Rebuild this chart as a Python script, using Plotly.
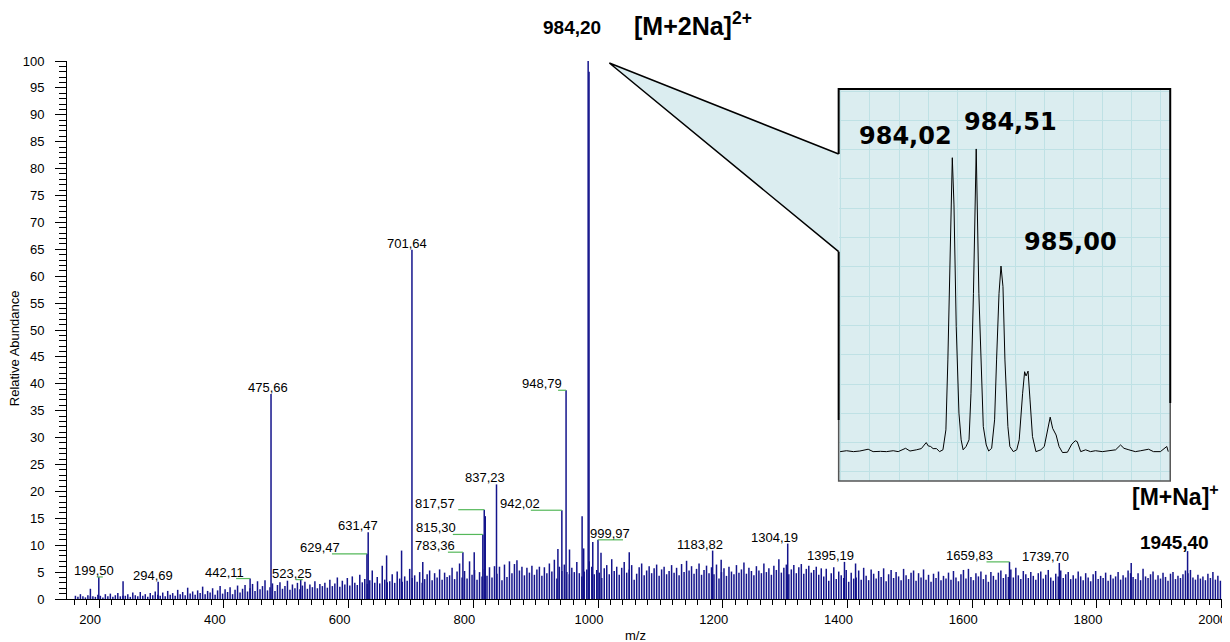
import plotly.graph_objects as go

# ---------------- data ----------------
# background noise sticks (relative abundance), one every 4 m/z starting at 162
noise_start = 162
noise_step = 4
noise_160_360 = [0.6, 0.4, 0.9, 0.5, 0.3, 0.7, 0.5, 0.5, 0.4, 0.8, 0.6, 0.3, 0.9, 0.5, 1.0, 0.4, 0.7, 1.1, 0.5, 0.6,
                 0.6, 0.9, 0.4, 1.2, 0.7, 0.5, 1.3, 0.6, 0.9, 0.4, 1.1, 0.7, 1.4, 0.8, 0.6, 1.2, 0.5, 1.5, 0.8, 1.1,
                 0.6, 1.7, 0.9, 1.3, 0.7, 2.1, 1.0, 1.4, 0.8, 1.6]
noise_360_560 = [1.1, 2.3, 0.9, 1.5, 1.2, 2.0, 0.8, 1.6, 2.4, 1.0, 1.8, 1.3, 2.2, 0.9, 1.7, 2.5, 1.2, 1.9, 2.6, 1.4,
                 2.0, 2.8, 1.5, 3.3, 1.8, 2.4, 3.5, 1.6, 2.2, 2.9, 1.5, 2.6, 3.1, 1.9, 2.4, 3.4, 1.7, 2.7, 2.0, 3.0,
                 1.8, 2.5, 3.2, 1.9, 2.7, 2.2, 3.3, 2.0, 2.8, 2.4]
noise_560_760 = [3.0, 2.1, 3.6, 2.4, 2.9, 4.0, 2.3, 3.4, 2.7, 3.9, 2.5, 4.2, 3.0, 2.6, 4.5, 3.1, 3.7, 2.8, 3.5, 5.3,
                 3.0, 4.1, 2.9, 6.2, 3.6, 3.1, 3.3, 4.6, 3.0, 5.1, 3.8, 3.2, 4.2, 3.4, 5.6, 3.9, 4.4, 3.2, 5.0, 3.0,
                 3.7, 4.6, 5.3, 3.5, 4.8, 4.0, 5.5, 3.6, 4.9, 4.1]
noise_760_960 = [4.4, 5.8, 3.7, 5.1, 6.6, 4.0, 5.2, 3.8, 7.0, 4.5, 5.4, 3.6, 5.0, 4.2, 5.6, 4.3, 5.9, 4.0, 6.1, 4.7,
                 6.0, 3.5, 6.4, 4.1, 7.0, 4.8, 6.5, 7.2, 5.3, 6.0, 4.4, 5.8, 4.9, 6.2, 4.5, 5.5, 6.0, 4.3, 5.9, 4.8,
                 6.6, 5.1, 7.3, 3.8, 6.0, 5.2, 6.4, 5.0, 4.6, 5.8]
noise_960_1160 = [5.0, 6.9, 4.8, 4.2, 5.1, 5.5, 7.0, 6.0, 4.6, 5.4, 4.9, 3.9, 5.7, 6.3, 4.6, 7.4, 5.2, 6.0, 4.5, 5.8,
                  6.9, 4.9, 5.5, 6.3, 3.6, 4.7, 5.9, 6.6, 4.4, 5.3, 6.1, 4.8, 5.7, 6.4, 4.3, 5.5, 6.0, 4.6, 5.2, 6.3,
                  4.9, 5.8, 4.4, 6.5, 5.0, 7.1, 5.3, 6.1, 4.7, 5.6]
noise_1160_1360 = [6.6, 4.5, 5.4, 6.2, 4.8, 5.9, 4.6, 6.4, 3.8, 5.0, 5.7, 4.3, 6.0, 5.1, 4.6, 6.3, 4.9, 5.5, 6.8, 4.7,
                   5.8, 5.2, 4.4, 6.1, 5.3, 4.8, 6.6, 5.0, 5.7, 4.5, 6.2, 5.4, 7.4, 4.9, 5.8, 6.4, 4.6, 5.5, 6.3, 4.8,
                   5.9, 6.5, 4.7, 5.6, 6.2, 4.9, 5.4, 6.0, 4.5, 5.7]
noise_1360_1560 = [4.2, 5.6, 3.4, 4.8, 5.9, 3.7, 5.1, 4.4, 3.9, 5.4, 3.2, 4.9, 3.8, 4.0, 5.3, 3.6, 5.8, 4.3, 3.5, 5.5,
                   4.7, 3.8, 5.2, 4.1, 5.7, 3.3, 4.6, 5.4, 3.9, 5.0, 4.2, 3.5, 5.6, 4.4, 3.7, 4.9, 5.3, 3.4, 4.8, 4.0,
                   5.5, 3.6, 4.5, 3.2, 4.7, 3.9, 5.1, 3.5, 4.3, 3.8]
noise_1560_1760 = [4.9, 3.6, 5.2, 4.0, 3.3, 4.6, 5.4, 3.8, 5.6, 4.1, 3.5, 4.8, 4.2, 5.1, 3.7, 4.5, 3.2, 5.0, 4.3, 3.6,
                   4.9, 5.3, 3.9, 4.6, 4.1, 5.5, 4.0, 5.8, 4.4, 3.7, 5.2, 4.6, 3.9, 5.0, 4.3, 3.6, 4.8, 5.1, 3.8, 4.5,
                   5.4, 4.0, 3.4, 4.7, 4.2, 5.3, 3.9, 4.6, 5.0, 3.7]
noise_1760_2000 = [4.4, 3.8, 5.1, 4.2, 3.5, 4.8, 4.0, 3.3, 4.6, 5.2, 3.7, 4.3, 3.9, 4.9, 3.4, 4.5, 3.8, 4.2, 5.0, 3.6,
                   4.4, 4.0, 5.3, 4.8, 4.1, 3.7, 4.8, 3.5, 5.6, 4.2, 3.9, 4.6, 5.1, 3.6, 4.4, 3.8, 4.9, 4.1, 3.4, 4.7,
                   5.0, 3.7, 4.3, 3.9, 4.6, 5.3, 4.8, 5.4, 4.0, 3.6, 4.5, 3.8, 4.2, 3.5, 4.7, 3.9, 5.0, 3.6, 4.3, 3.4]

# unlabelled but noticeable sticks
extra_mz = [186.0, 238.4, 661.0, 685.0, 719.0, 801.5, 819.2, 935.7, 954.3, 974.5, 977.0, 985.6, 991.6, 1004.8,
            1050.1, 1197.5, 1413.0, 1855.0]
extra_int = [1.9, 3.3, 8.1, 9.0, 6.9, 8.7, 15.4, 9.3, 9.2, 15.4, 9.4, 98.0, 10.6, 8.6, 8.7, 7.3, 6.6, 6.7]

# labelled peaks
peak_mz = [199.50, 294.69, 442.11, 475.66, 523.25, 629.47, 631.47, 701.64, 783.36, 815.30, 817.57, 837.23,
           942.02, 948.79, 999.97, 1183.82, 1304.19, 1395.19, 1659.83, 1739.70]
peak_int = [4.1, 3.2, 3.8, 38.1, 3.6, 8.4, 12.4, 64.9, 8.7, 12.0, 16.6, 21.3, 16.5, 38.8, 11.0, 9.0, 10.3, 6.9,
            6.9, 6.7]

# main ions (bold labels)
major_mz = [984.20, 1945.40]
major_int = [100.0, 8.9]
major_ion = ["[M+2Na]<sup>2+</sup>", "[M+Na]<sup>+</sup>"]

# zoomed isotope profile of the [M+2Na]2+ ion
inset_mz = [981.74, 981.87, 982.01, 982.14, 982.31, 982.41, 982.56, 982.68, 982.82, 982.92, 983.07, 983.16,
            983.29, 983.39, 983.49, 983.53, 983.58, 983.63, 983.70, 983.76, 983.83, 983.89, 983.93, 984.02,
            984.054, 984.10, 984.155, 984.20, 984.24, 984.30, 984.36, 984.40, 984.45, 984.506, 984.56, 984.61,
            984.65, 984.71, 984.76, 984.82, 984.88, 984.92, 984.97, 985.01, 985.05, 985.09, 985.15, 985.19,
            985.26, 985.33, 985.38, 985.45, 985.49, 985.52, 985.56, 985.60, 985.65, 985.72, 985.82, 985.89,
            985.95, 986.01, 986.06, 986.13, 986.19, 986.26, 986.36, 986.45, 986.52, 986.56, 986.63, 986.73,
            986.83, 986.93, 987.07, 987.20, 987.34, 987.44, 987.51, 987.61, 987.74, 987.85, 988.01, 988.11,
            988.25, 988.38, 988.41]
inset_int = [0.0, 0.3, 0.0, 0.2, 0.8, 0.0, 0.1, 0.0, 0.3, 0.0, 1.1, 0.2,
             0.6, 1.0, 3.0, 1.9, 1.7, 1.0, 1.0, 0.0, 0.6, 7.2, 30.3, 97.1,
             81.5, 41.3, 12.7, 3.9, 0.6, 1.7, 3.9, 19.3, 52.3, 100.0, 52.3, 24.8,
             8.3, 2.2, 0.2, 1.1, 10.5, 30.3, 52.3, 61.3, 54.5, 30.3, 8.3, 1.7,
             0.0, 0.6, 3.9, 19.3, 26.4, 25.0, 26.6, 17.1, 5.0, 0.0, 0.6, 1.7,
             6.1, 11.4, 7.7, 5.5, 1.7, -0.3, -0.2, 2.5, 3.6, 3.3, 0.0, 0.6,
             0.0, 0.3, 0.0, 0.2, 0.6, 2.2, 1.1, 0.6, 0.0, 0.3, 0.8, 0.0,
             0.0, 1.7, 0.0]
inset_label_mz = [984.02, 984.51, 985.00]

# ---------------- label / inset styling (positions, not data) ----------------
label_dx = [-5, -5, -26, -3, -9, -47, -10, -5, -28, -47, -49, -12, -42, -24, 12, -13, -13, -14, -40, -14]
leader_px = [(-2, 4), None, (-14, 0), None, (-5, 2), (-35, 0), None, None, (-15, 0), (-30, 0), (-26, 0), None,
             (-31, 0), (-8, 0), (0, 25), None, None, None, (-23, 0), None]
inset_label_pos = [(983.07, 104.3), (985.20, 108.8), (986.43, 69.4)]

FONT = "Liberation Sans, Arial, sans-serif"
STICK = "#14148c"
INSET_BG = "#dbedf0"
INSET_GRID = "#bfe1e5"
LEADER = "#55b85a"

noise_int = (noise_160_360 + noise_360_560 + noise_560_760 + noise_760_960 + noise_960_1160 +
             noise_1160_1360 + noise_1360_1560 + noise_1560_1760 + noise_1760_2000)
noise_mz = [noise_start + noise_step * i for i in range(len(noise_int))]

all_mz = noise_mz + extra_mz + peak_mz + major_mz
all_int = noise_int + extra_int + peak_int + major_int
sx, sy = [], []
for m, h in zip(all_mz, all_int):
    sx += [m, m, None]
    sy += [0, h, None]

fig = go.Figure()
fig.add_trace(go.Scatter(x=sx, y=sy, mode="lines", line=dict(color=STICK, width=1.5),
                         hoverinfo="skip", showlegend=False))
fig.add_trace(go.Scatter(x=inset_mz, y=inset_int, xaxis="x2", yaxis="y2", mode="lines",
                         line=dict(color="black", width=1), hoverinfo="skip", showlegend=False))

annotations = []
shapes = []

# peak labels
for m, h, dx, ld in zip(peak_mz, peak_int, label_dx, leader_px):
    annotations.append(dict(x=m, y=h, xref="x", yref="y", text=f"{m:.2f}".replace(".", ","),
                            showarrow=False, xanchor="center", yanchor="bottom", xshift=dx, yshift=-3,
                            font=dict(family=FONT, size=13, color="black")))
    if ld is not None:
        shapes.append(dict(type="line", xref="x", yref="y", xsizemode="pixel", ysizemode="pixel",
                           xanchor=m, yanchor=h, x0=ld[0], x1=ld[1], y0=0, y1=0,
                           line=dict(color=LEADER, width=1.2)))

# bold main-ion labels
annotations.append(dict(x=major_mz[0], y=major_int[0], xref="x", yref="y",
                        text="<b>" + f"{major_mz[0]:.2f}".replace(".", ",") + "</b>",
                        showarrow=False, xanchor="center", yanchor="middle", xshift=-16, yshift=34,
                        font=dict(family=FONT, size=19, color="black")))
annotations.append(dict(x=major_mz[0], y=major_int[0], xref="x", yref="y",
                        text="<b>" + major_ion[0] + "</b>",
                        showarrow=False, xanchor="left", yanchor="middle", xshift=44, yshift=37,
                        font=dict(family=FONT, size=25, color="black")))
annotations.append(dict(x=major_mz[1], y=major_int[1], xref="x", yref="y",
                        text="<b>" + f"{major_mz[1]:.2f}".replace(".", ",") + "</b>",
                        showarrow=False, xanchor="center", yanchor="middle", xshift=-13, yshift=9,
                        font=dict(family=FONT, size=19, color="black")))
annotations.append(dict(x=major_mz[1], y=major_int[1], xref="x", yref="y",
                        text="<b>" + major_ion[1] + "</b>",
                        showarrow=False, xanchor="right", yanchor="middle", xshift=33, yshift=56,
                        font=dict(family=FONT, size=23, color="black")))

# inset labels
for m, (lx, ly) in zip(inset_label_mz, inset_label_pos):
    annotations.append(dict(x=lx, y=ly, xref="x2", yref="y2", text="<b>" + f"{m:.2f}".replace(".", ",") + "</b>",
                            showarrow=False, xanchor="center", yanchor="middle",
                            font=dict(family="DejaVu Sans, Verdana, sans-serif", size=24, color="black")))

# page geometry (the page body has an 8 px margin, so the figure is shrunk by that amount)
PAGE_W, PAGE_H = 1230, 642
BODY = 8
W, H = PAGE_W - BODY, PAGE_H - BODY
PLOT_L, PLOT_R, PLOT_T, PLOT_B = 67, 1227, 61, 599   # wanted plot-area pixels on the page
ML, MR, MT, MB = PLOT_L - BODY, PAGE_W - PLOT_R, PLOT_T - BODY, PAGE_H - PLOT_B


def px(x):
    return (x - PLOT_L) / (PLOT_R - PLOT_L)


def py(y):
    return (PLOT_B - y) / (PLOT_B - PLOT_T)


# axis titles
annotations.append(dict(x=px(14), y=py(348), xref="paper", yref="paper", text="Relative Abundance",
                        showarrow=False, textangle=-90, xanchor="center", yanchor="middle",
                        font=dict(family=FONT, size=13, color="black")))
annotations.append(dict(x=px(638), y=py(635), xref="paper", yref="paper", text="m/z", showarrow=False,
                        xanchor="center", yanchor="middle", font=dict(family=FONT, size=13, color="black")))

box_l, box_r, box_t, box_b = 842, 1175, 89, 481
tip = (611.7, 63)
att_hi, att_lo = 154, 251.7

# inset background
shapes.append(dict(type="rect", xref="x2 domain", yref="y2 domain", x0=0, x1=1, y0=0, y1=1,
                   fillcolor=INSET_BG, line=dict(width=0), layer="below"))
# callout wedge
shapes.append(dict(type="path", xref="paper", yref="paper",
                   path=f"M {px(box_l)} {py(att_hi)} L {px(tip[0])} {py(tip[1])} L {px(box_l)} {py(att_lo)} Z",
                   fillcolor=INSET_BG, line=dict(width=0), layer="below"))
shapes.append(dict(type="path", xref="paper", yref="paper",
                   path=f"M {px(box_l)} {py(att_hi)} L {px(tip[0])} {py(tip[1])} L {px(box_l)} {py(att_lo)}",
                   line=dict(color="black", width=1.5)))
# inset border
shapes.append(dict(type="path", xref="paper", yref="paper",
                   path=f"M {px(box_l)} {py(att_hi)} L {px(box_l)} {py(box_t)} L {px(box_r)} {py(box_t)} L {px(box_r)} {py(403)}",
                   line=dict(color="black", width=2)))
shapes.append(dict(type="path", xref="paper", yref="paper",
                   path=f"M {px(box_l)} {py(att_lo)} L {px(box_l)} {py(420)}",
                   line=dict(color="black", width=2)))
shapes.append(dict(type="path", xref="paper", yref="paper",
                   path=f"M {px(box_l)} {py(420)} L {px(box_l)} {py(box_b)} L {px(box_r)} {py(box_b)} L {px(box_r)} {py(403)}",
                   line=dict(color="#555555", width=1.5)))

fig.update_layout(
    width=W, height=H, margin=dict(l=ML, r=MR, t=MT, b=MB, pad=0),
    paper_bgcolor="white", plot_bgcolor="rgba(0,0,0,0)", showlegend=False,
    font=dict(family=FONT, size=13, color="black"),
    annotations=annotations, shapes=shapes,
    xaxis=dict(range=[148.5, 2000.6], tickmode="linear", tick0=0, dtick=200, ticks="outside", ticklen=8,
               tickcolor="black", tickwidth=1, showline=True, linecolor="black", linewidth=1, showgrid=False,
               zeroline=False, tickfont=dict(family=FONT, size=13), ticklabelshift=-9,
               ticklabeloverflow="allow",
               minor=dict(ticks="outside", dtick=20, tick0=0, ticklen=5, tickcolor="black", showgrid=False)),
    yaxis=dict(range=[0, 100], tickmode="linear", tick0=0, dtick=5, ticks="outside", ticklen=11,
               tickcolor="black", tickwidth=1, showline=True, linecolor="black", linewidth=1, showgrid=False,
               zeroline=False, tickfont=dict(family=FONT, size=13), ticklabelstandoff=8,
               ticklabeloverflow="allow",
               minor=dict(ticks="outside", dtick=1, tick0=0, ticklen=7, tickcolor="black", showgrid=False)),
    xaxis2=dict(domain=[px(box_l), px(box_r)], anchor="y2", range=[981.71, 988.45], tickmode="linear",
                tick0=982.346, dtick=0.5911, showgrid=True, gridcolor=INSET_GRID, gridwidth=1,
                showticklabels=False, ticks="", zeroline=False, showline=False),
    yaxis2=dict(domain=[py(box_b), py(box_t)], anchor="x2", range=[-9.7, 119.8], tickmode="linear",
                tick0=2.97, dtick=9.68, showgrid=True, gridcolor=INSET_GRID, gridwidth=1,
                showticklabels=False, ticks="", zeroline=False, showline=False),
)

fig.write_html("out.html")
